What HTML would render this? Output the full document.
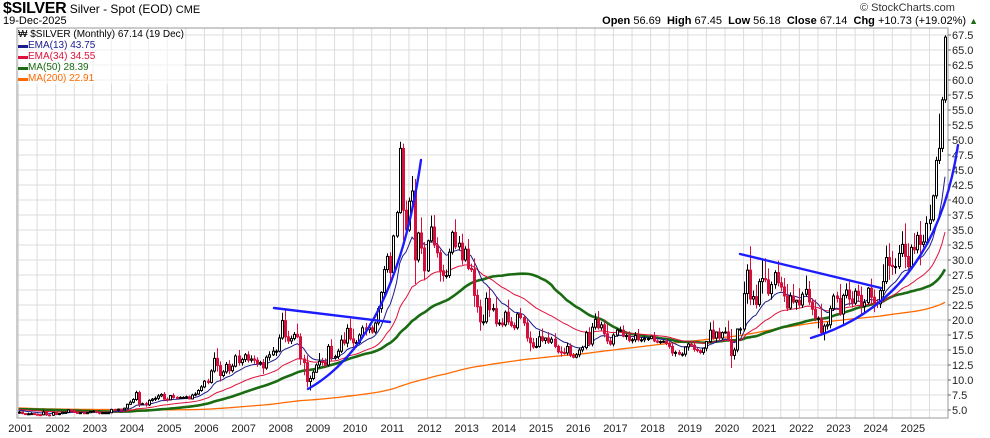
<!DOCTYPE html>
<html><head><meta charset="utf-8"><style>
body{margin:0;background:#fff;}
svg{display:block;font-family:"Liberation Sans",sans-serif;}
</style></head><body>
<svg id="chart" width="990" height="438"></svg>
<script>
const years=[2001,2002,2003,2004,2005,2006,2007,2008,2009,2010,2011,2012,2013,2014,2015,2016,2017,2018,2019,2020,2021,2022,2023,2024,2025];
// pre-2001 yearly average prices (1984-2000) used only to seed the moving averages
const preYearAvg=[8.1,6.1,5.5,7.0,6.5,5.5,4.8,4.0,3.9,4.3,5.3,5.2,5.2,4.9,5.5,5.2,5.0];
const closes=[
4.65,4.40,4.35,4.37,4.40,4.30,4.22,4.20,4.65,4.20,4.13,4.58,
4.25,4.40,4.60,4.60,5.00,4.90,4.60,4.50,4.55,4.50,4.55,4.75,
4.80,4.65,4.45,4.55,4.55,4.55,5.10,5.00,5.15,5.05,5.30,5.95,
6.30,6.75,7.90,6.00,6.05,5.85,6.60,6.80,6.95,7.35,7.60,6.80,
6.70,7.40,7.10,6.95,7.10,7.10,7.20,6.85,7.50,7.65,8.25,8.85,
9.80,9.60,11.50,13.60,12.40,10.75,11.35,12.60,11.55,12.30,14.00,12.90,
13.40,14.20,13.30,13.50,13.30,12.70,12.90,12.00,13.80,14.20,14.80,14.80,
17.00,19.90,17.20,16.50,16.90,17.60,17.20,13.50,12.90,9.75,10.25,11.30,
12.50,13.10,13.00,12.50,15.60,13.70,13.90,14.80,16.65,16.15,18.60,16.85,
16.20,16.25,17.50,18.70,18.40,18.70,18.00,19.50,21.90,24.60,28.40,30.60,
27.90,34.00,37.90,48.60,38.30,35.00,39.80,41.50,30.00,34.50,32.00,28.20,
33.20,35.50,32.50,31.20,28.20,27.40,27.40,31.30,34.60,32.20,32.80,30.00,
31.80,28.60,28.40,24.10,22.20,19.70,19.70,23.60,21.70,21.90,19.40,19.50,
19.20,21.30,19.70,19.10,18.70,21.00,20.40,19.50,17.00,16.20,15.50,15.60,
17.20,16.60,17.00,16.30,16.80,15.60,14.70,14.60,14.50,15.60,14.10,13.80,
14.20,15.00,15.40,17.90,16.00,18.80,20.10,18.70,19.20,17.70,16.50,16.00,
17.50,18.30,18.30,17.30,17.40,16.60,16.70,17.40,16.70,16.70,16.90,16.90,
17.30,16.50,16.30,16.40,16.45,16.10,15.60,14.50,14.60,14.30,14.30,15.50,
16.00,15.80,15.10,14.90,14.60,15.30,16.40,18.30,17.00,18.00,17.00,17.90,
18.00,16.70,14.10,15.00,18.50,18.50,24.40,28.30,23.50,23.90,22.60,26.40,
26.90,26.70,24.40,25.90,27.90,26.20,25.50,24.00,22.00,24.00,23.00,23.30,
22.50,24.30,25.10,23.00,21.80,20.30,20.30,17.90,19.00,19.20,21.90,24.00,
23.60,21.00,24.10,25.00,23.50,22.80,24.80,24.10,22.30,22.90,25.30,23.80,
22.90,22.70,24.90,26.40,30.40,29.10,28.90,28.90,31.10,32.60,30.60,28.90,
32.10,31.70,34.10,32.60,33.00,36.10,36.70,40.70,46.60,48.60,56.69,67.14];
const highExtra=[
0.2,0.1,0.1,0.2,0.2,0.1,0.1,0.1,0.3,0.2,0.1,0.1,
0.1,0.1,0.1,0.1,0.1,0.1,0.1,0.1,0.1,0.1,0.1,0.1,
0.2,0.1,0.1,0.1,0.1,0.1,0.1,0.1,0.1,0.1,0.1,0.1,
0.3,0.2,0.3,0.3,0.2,0.3,0.2,0.2,0.3,0.3,0.2,0.4,
0.3,0.1,0.4,0.2,0.2,0.2,0.2,0.2,0.2,0.3,0.2,0.3,
0.2,0.4,0.3,1.0,1.7,0.7,0.3,0.4,0.7,0.4,0.3,1.0,
0.3,0.3,0.6,0.6,0.6,0.5,0.3,0.6,0.3,0.6,0.7,0.3,
0.6,1.3,1.8,1.0,0.5,0.4,1.8,0.6,0.7,1.2,0.5,0.3,
0.3,1.4,0.6,0.6,0.4,1.2,0.3,0.4,0.8,1.3,0.7,1.6,
1.7,0.4,0.3,0.4,0.8,0.7,0.4,0.2,0.4,0.2,0.6,0.5,
0.7,0.2,0.3,1.1,0.8,1.6,0.6,2.5,2.0,0.2,2.6,1.0,
0.2,1.9,2.0,1.3,0.5,1.0,1.0,0.6,0.3,2.2,1.2,1.6,
0.5,1.7,0.8,1.9,1.0,1.2,1.2,1.0,1.9,0.8,1.9,0.6,
0.8,0.3,2.1,0.8,0.5,0.2,1.0,0.4,0.6,1.1,0.8,1.4,
1.0,1.4,0.1,1.0,0.4,1.0,0.3,0.9,0.8,0.6,0.5,0.4,
0.3,0.4,0.3,0.3,0.9,0.7,1.0,1.4,0.5,0.9,1.7,0.5,
0.3,0.3,0.6,0.8,0.3,0.7,0.3,0.6,1.1,0.4,0.4,0.2,
0.1,0.7,0.3,0.2,0.2,0.4,0.3,0.5,0.3,0.4,0.3,0.1,
0.2,0.5,0.5,0.3,0.2,0.1,0.1,1.3,1.6,0.1,0.7,0.2,
0.8,1.9,1.8,0.4,0.1,0.3,2.0,1.0,4.0,1.0,2.0,0.5,
3.1,3.4,1.9,0.5,0.4,2.0,1.0,1.5,2.0,0.6,2.0,0.1,
2.0,0.4,2.3,1.4,0.6,1.6,0.3,2.4,0.4,0.5,0.5,0.4,
0.7,2.4,0.3,1.1,1.4,1.3,0.5,1.1,1.5,0.6,0.2,1.6,
1.3,0.6,0.6,2.9,2.0,2.4,2.4,1.4,1.4,2.2,3.5,2.2,
0.5,2.4,0.6,2.4,1.2,1.2,2.5,0.2,0.6,5.8,0.5,0.31];
const lowExtra=[
0.3,0.1,0.1,0.2,0.2,0.1,0.1,0.1,0.1,0.2,0.2,0.1,
0.1,0.1,0.1,0.2,0.1,0.1,0.1,0.1,0.1,0.1,0.1,0.1,
0.1,0.2,0.2,0.1,0.1,0.1,0.1,0.2,0.1,0.2,0.1,0.1,
0.1,0.2,0.2,0.5,0.2,0.3,0.2,0.2,0.3,0.3,0.2,0.2,
0.3,0.1,0.2,0.1,0.1,0.1,0.2,0.1,0.1,0.2,0.1,0.2,
0.2,0.3,0.2,0.3,1.0,1.0,0.3,0.3,0.6,0.3,0.2,0.5,
0.5,0.4,0.4,0.4,0.6,0.5,0.3,1.0,0.3,0.6,0.2,0.8,
0.2,0.3,0.9,0.5,0.5,0.3,0.2,1.0,2.1,1.0,1.5,0.3,
0.1,0.5,0.6,0.4,0.3,0.5,0.3,0.4,0.3,0.4,0.7,0.3,
1.0,0.8,0.3,0.4,1.0,0.6,0.3,0.3,0.4,0.7,0.6,0.5,
1.5,0.2,0.3,0.2,5.0,1.0,0.3,0.9,4.0,0.4,1.0,1.6,
0.2,0.3,0.5,0.8,1.8,1.0,0.5,0.4,0.4,0.4,0.5,0.8,
0.3,0.3,0.4,1.9,1.0,1.5,0.6,0.3,1.2,0.3,0.5,0.4,
0.4,0.3,0.5,0.3,0.4,0.3,0.3,0.5,0.6,1.4,0.3,0.2,
0.2,0.3,0.6,0.3,0.3,0.3,0.3,0.7,0.3,0.4,0.3,0.2,
0.2,0.4,0.4,0.3,0.4,0.4,0.4,0.3,0.4,0.6,0.5,0.3,
0.4,0.3,0.3,0.2,0.6,0.3,0.5,0.4,0.3,0.4,0.4,0.4,
0.1,0.2,0.2,0.3,0.2,0.3,0.4,0.5,0.6,0.2,0.4,0.4,
0.6,0.3,0.4,0.3,0.3,0.4,0.5,0.3,0.3,0.7,0.5,0.3,
0.2,0.3,2.1,0.7,0.4,0.9,0.4,1.7,1.0,1.0,0.7,0.4,
2.0,0.4,0.4,1.0,0.7,0.6,0.7,1.0,0.5,0.3,0.3,1.3,
0.5,0.5,0.4,0.5,1.0,0.5,1.7,0.5,1.3,0.6,0.6,0.4,
0.7,0.3,1.7,0.5,1.1,0.7,0.3,1.1,1.5,1.0,0.3,1.2,
1.6,0.7,0.7,1.7,0.4,2.4,1.4,1.2,0.4,0.6,2.0,0.5,
0.4,0.7,0.6,3.5,0.5,0.5,1.2,0.3,0.5,0.6,0.6,0.5];

const NS='http://www.w3.org/2000/svg';
const svg=document.getElementById('chart');
const L=17,R=948,T=28,B=418;
const N=closes.length;
function X(i){return 18.5+i*(945-18.5)/(N-1);}
function Y(v){return 410-(v-5)*6;}
function mk(tag,attrs,parent){const e=document.createElementNS(NS,tag);for(const k in attrs)e.setAttribute(k,attrs[k]);(parent||svg).appendChild(e);return e;}

const grid=mk('g',{});


for(let v=5;v<=67.5;v+=2.5){mk('line',{x1:L,x2:R,y1:Y(v),y2:Y(v),stroke:'#dcdcdc','stroke-width':1},grid);}
for(let m=0;m<N;m+=6){mk('line',{x1:X(m),x2:X(m),y1:T,y2:B,stroke:'#dcdcdc','stroke-width':1},grid);}
const border=mk('rect',{x:L,y:T,width:R-L,height:B-T,fill:'none',stroke:'#999','stroke-width':1});



const yax=mk('g',{'font-size':11,fill:'#222'});


for(let v=5;v<=67.5;v+=2.5){mk('line',{x1:R,x2:R+3,y1:Y(v),y2:Y(v),stroke:'#666'},yax);const t=mk('text',{x:R+4,y:Y(v)+4},yax);t.textContent=v.toFixed(1);}
const xax=mk('g',{'font-size':11,fill:'#222','text-anchor':'middle'});


years.forEach((yr,k)=>{const t=mk('text',{x:X(k*12)+2,y:432},xax);t.textContent=yr;});

// moving averages (seeded with pre-2001 history)
const hist=[];preYearAvg.forEach(v=>{for(let m=0;m<12;m++)hist.push(v);});
const all=hist.concat(closes),off=hist.length;
function ema(n){const a=2/(n+1);let e=all[0];const out=all.map((c,i)=>i?(e=e+a*(c-e)):e);return out.slice(off);}
function sma(n){const out=all.map((c,i)=>{const s=Math.max(0,i-n+1);let t=0;for(let j=s;j<=i;j++)t+=all[j];return t/(i-s+1);});return out.slice(off);}
function line(vals,color,w,name){const p=mk('polyline',{points:vals.map((v,i)=>X(i)+','+Y(v)).join(' '),fill:'none',stroke:color,'stroke-width':w});}
line(sma(200),'#ff6a00',1.3,'ma200-line');
line(sma(50),'#1a6b12',2.6,'ma50-line');
line(ema(34),'#e0103c',1,'ema34-line');
line(ema(13),'#1c1c8e',1,'ema13-line');

const cg=mk('g',{});


for(let i=0;i<N;i++){
  const c=closes[i],o=i?closes[i-1]:c;
  const hi=Math.max(o,c)+highExtra[i],lo=Math.min(o,c)-lowExtra[i];
  const up=c>=o,col=up?'#000':'#d4103c';const x=Math.round(X(i))+0.5;
  mk('line',{x1:x,x2:x,y1:Y(hi),y2:Y(lo),stroke:col,'stroke-width':1},cg);
  const top=Y(Math.max(o,c)),h=Math.max(1,Y(Math.min(o,c))-top);
  const b=mk('rect',{x:x-1,y:top,width:2,height:h,fill:up?'#fff':col,stroke:col,'stroke-width':1},cg);
  
  
}

const an=mk('g',{fill:'none',stroke:'#1c1cff','stroke-width':2.4,'stroke-linecap':'round'});


mk('line',{x1:274,y1:308,x2:390,y2:322},an);
mk('path',{d:'M308,389 Q395,340 421,160'},an);
mk('line',{x1:740,y1:254,x2:881,y2:288},an);
mk('path',{d:'M811,338 Q935,300 958,145'},an);
</script>
<div style="position:absolute;left:0;top:0;width:990px;height:438px;pointer-events:none;font-family:'Liberation Sans',sans-serif;">
 <div style="position:absolute;left:3px;top:0px;font-size:12px;white-space:nowrap;"><b style="font-size:16px;letter-spacing:-0.3px">$SILVER</b> Silver - Spot (EOD) <span style="font-size:11px">CME</span></div>
 <div style="position:absolute;left:3px;top:15px;font-size:11px;">19-Dec-2025</div>
 <div style="position:absolute;left:860px;top:2px;font-size:11px;color:#333;">© StockCharts.com</div>
 <div style="position:absolute;right:12px;top:15px;font-size:11px;white-space:nowrap;"><b>Open</b> 56.69 &nbsp;<b>High</b> 67.45 &nbsp;<b>Low</b> 56.18 &nbsp;<b>Close</b> 67.14 &nbsp;<b>Chg</b> +10.73 (+19.02%) <span style="color:#1a6b12;font-size:9px">▲</span></div>
 <div style="position:absolute;left:18px;top:29px;font-size:10px;line-height:11px;background:rgba(255,255,255,0.6);">
  <div>₩ $SILVER (Monthly) 67.14 (19 Dec)</div>
  <div style="color:#1c1c8e">▬EMA(13) 43.75</div>
  <div style="color:#e0103c">▬EMA(34) 34.55</div>
  <div style="color:#1a6b12">▬MA(50) 28.39</div>
  <div style="color:#ff6a00">▬MA(200) 22.91</div>
 </div>
</div>
</body></html>
